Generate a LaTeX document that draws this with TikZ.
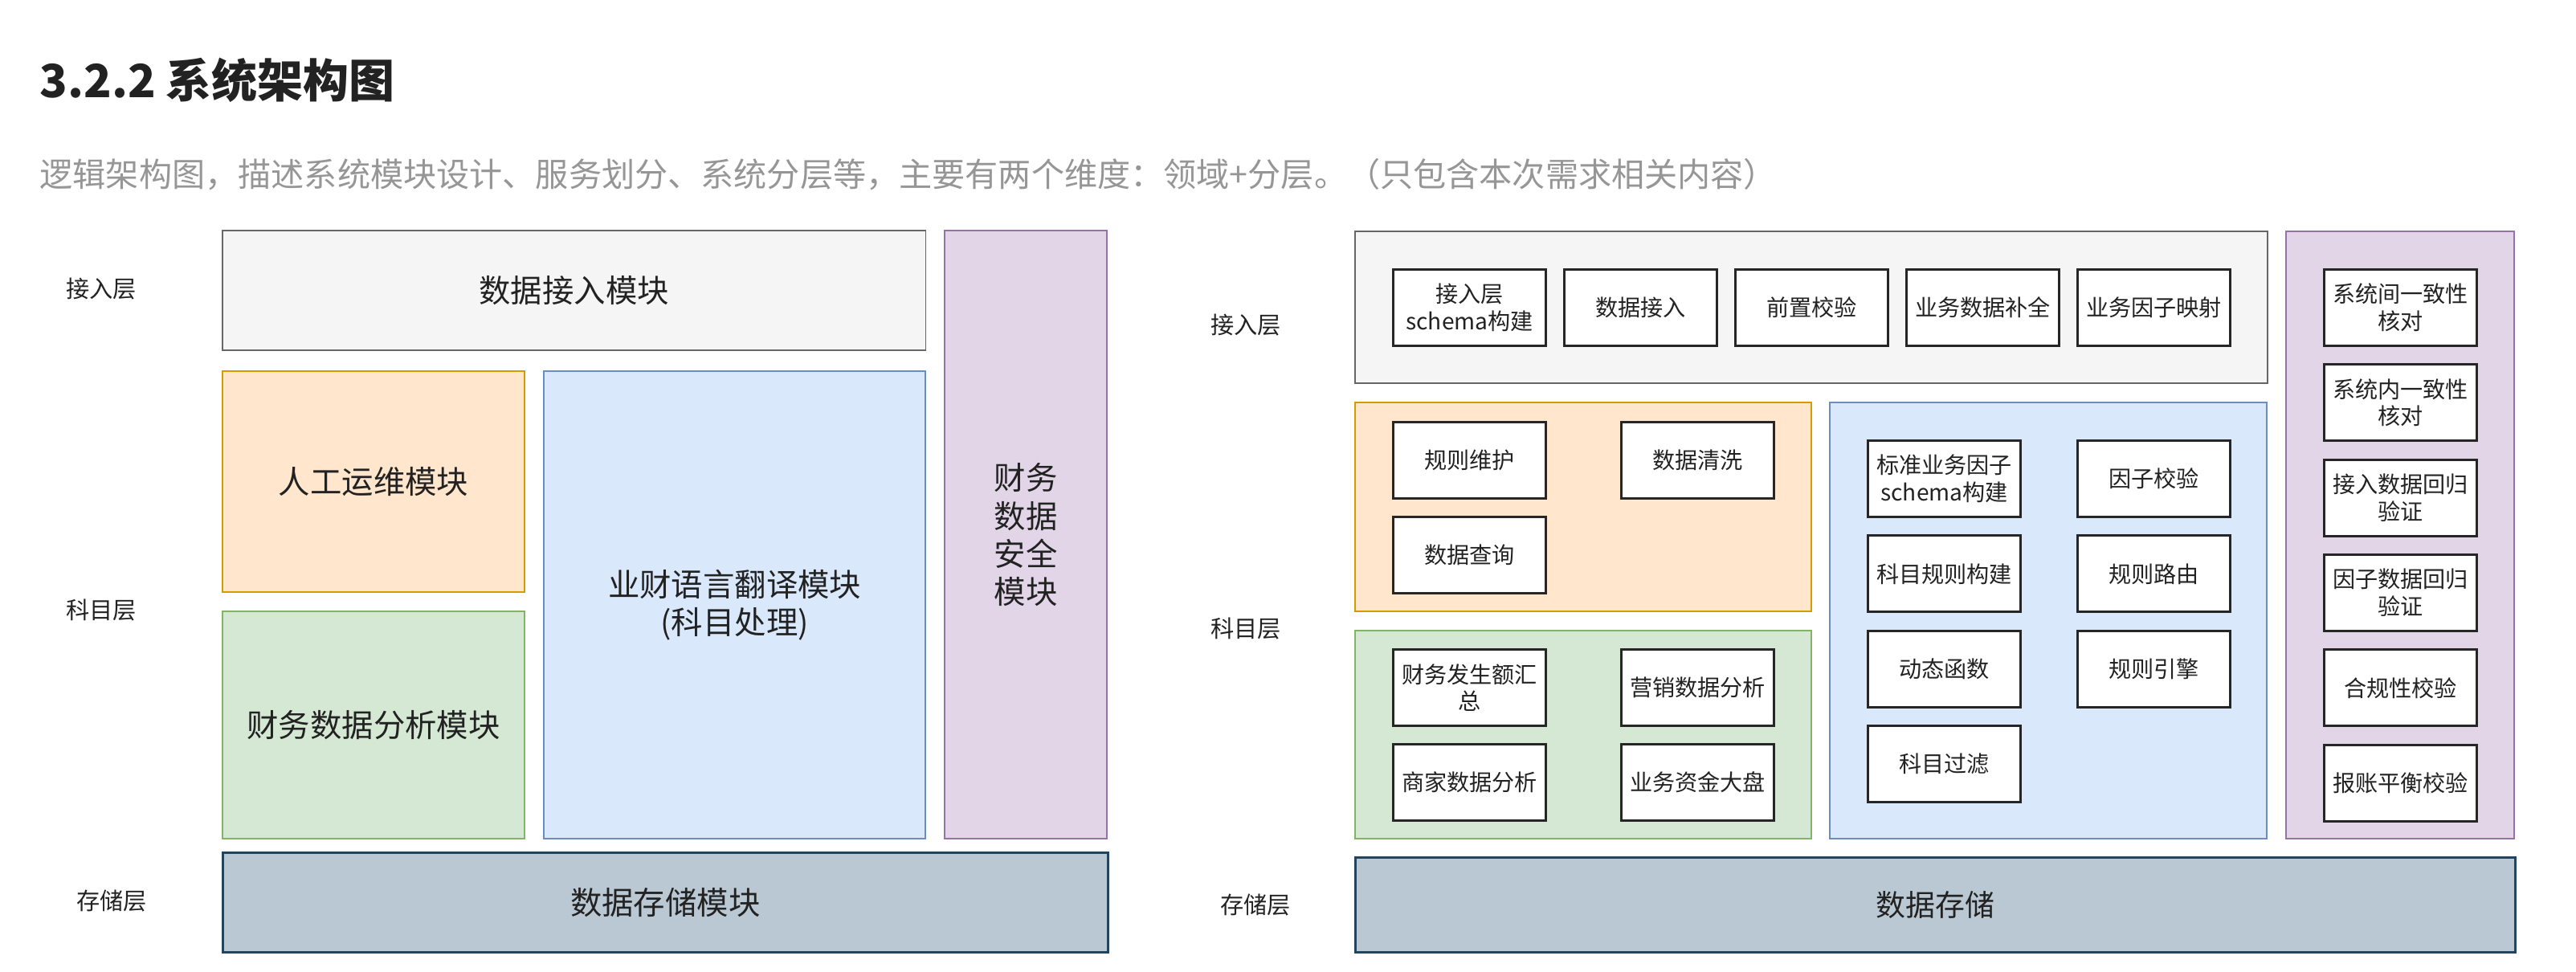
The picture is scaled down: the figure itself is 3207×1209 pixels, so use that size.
\documentclass[tikz,border=0pt]{standalone}
\usepackage{fontspec}
\setmainfont{Noto Sans CJK SC}
\usetikzlibrary{positioning}
\definecolor{inkdark}{RGB}{34,34,34}
\definecolor{inkgray}{RGB}{150,150,150}
\definecolor{greyfill}{RGB}{245,245,245}
\definecolor{greyline}{RGB}{102,102,102}
\definecolor{peachfill}{RGB}{255,230,204}
\definecolor{peachline}{RGB}{215,155,0}
\definecolor{sagefill}{RGB}{213,232,212}
\definecolor{sageline}{RGB}{130,179,102}
\definecolor{skyfill}{RGB}{218,232,252}
\definecolor{skyline}{RGB}{108,142,191}
\definecolor{lilacfill}{RGB}{225,213,231}
\definecolor{lilacline}{RGB}{150,115,166}
\definecolor{slatefill}{RGB}{186,200,211}
\definecolor{slateline}{RGB}{35,68,93}

\begin{document}
\begin{tikzpicture}[x=0.01cm,y=-0.01cm,
    layer/.style={font=\fontsize{8.3}{10}\selectfont,text=inkdark},
    zone/.style={rectangle,anchor=north west,inner sep=0pt,line width=0.55pt,align=center,text=inkdark,
      font=\fontsize{11.2}{13.4}\selectfont},
    item/.style={rectangle,draw=black!85,fill=white,line width=0.85pt,minimum width=1.9cm,minimum height=0.95cm,
      inner sep=0pt,anchor=north west,align=center,text=inkdark,font=\fontsize{8}{9.6}\selectfont}]
  \useasboundingbox (0,0) rectangle (3207,1209);

  % heading
  \node[anchor=west,inner sep=0pt,text=inkdark,font=\fontsize{16.2}{19}\selectfont\bfseries] (title) at (49,100) {3.2.2 系统架构图};
  \node[anchor=west,inner sep=0pt,text=inkgray,font=\fontsize{11.7}{14}\selectfont] (intro) at (49,217)
    {逻辑架构图，描述系统模块设计、服务划分、系统分层等，主要有两个维度：领域+分层。（只包含本次需求相关内容）};

  % left: module view
  \node[layer] (lacc) at (126,360) {接入层};
  \node[layer] (lsub) at (126,760) {科目层};
  \node[layer] (lsto) at (139,1121) {存储层};
  \node[zone,draw=greyline,fill=greyfill,minimum width=8.75cm,minimum height=1.49cm] (ingest) at (276,286) {数据接入模块};
  \node[zone,draw=lilacline,fill=lilacfill,minimum width=2.02cm,minimum height=7.57cm] (secure) at (1175,286) {财务\\数据\\安全\\模块};
  \node[zone,draw=peachline,fill=peachfill,minimum width=3.76cm,minimum height=2.75cm] (manual) at (276,461) {人工运维模块};
  \node[zone,draw=sageline,fill=sagefill,minimum width=3.76cm,minimum height=2.83cm] (analysis) at (276,760) {财务数据分析模块};
  \node[zone,draw=skyline,fill=skyfill,minimum width=4.75cm,minimum height=5.82cm] (translate) at (676,461) {业财语言翻译模块\\(科目处理)};
  \node[zone,draw=slateline,fill=slatefill,line width=0.85pt,minimum width=11.01cm,minimum height=1.24cm] (storage) at (276,1060) {数据存储模块};

  % right: detailed view
  \node[layer] (racc) at (1551,405) {接入层};
  \node[layer] (rsub) at (1551,783) {科目层};
  \node[layer] (rsto) at (1563,1126) {存储层};
  \node[zone,draw=greyline,fill=greyfill,minimum width=11.35cm,minimum height=1.89cm] (accbox) at (1686,287) {};
  \node[zone,draw=peachline,fill=peachfill,minimum width=5.68cm,minimum height=2.60cm] (opsbox) at (1686,500) {};
  \node[zone,draw=sageline,fill=sagefill,minimum width=5.68cm,minimum height=2.59cm] (anabox) at (1686,784) {};
  \node[zone,draw=skyline,fill=skyfill,minimum width=5.44cm,minimum height=5.43cm] (rulebox) at (2277,500) {};
  \node[zone,draw=lilacline,fill=lilacfill,minimum width=2.84cm,minimum height=7.56cm] (checkbox) at (2845,287) {};
  \node[zone,draw=slateline,fill=slatefill,line width=0.85pt,minimum width=14.43cm,minimum height=1.18cm,
    font=\fontsize{10.5}{12.6}\selectfont] (store) at (1686,1066) {数据存储};

  \foreach \t [count=\i from 0] in {接入层\\schema构建,数据接入,前置校验,业务数据补全,业务因子映射}
  {
    \pgfmathsetmacro{\x}{1733+213*\i}
    \node[item] (acc\i) at (\x,334) {\t};
  }
  \foreach \x/\y/\t [count=\i from 0] in {1733/524/规则维护,2017/524/数据清洗,1733/642/数据查询}
    \node[item] (ops\i) at (\x,\y) {\t};
  \foreach \x/\y/\t [count=\i from 0] in {1733/807/财务发生额汇\\总,2017/807/营销数据分析,
      1733/925/商家数据分析,2017/925/业务资金大盘}
    \node[item] (ana\i) at (\x,\y) {\t};
  \foreach \t [count=\i from 0] in {标准业务因子\\schema构建,科目规则构建,动态函数,科目过滤}
  {
    \pgfmathsetmacro{\y}{547+118.3*\i}
    \node[item] (rule\i) at (2324,\y) {\t};
  }
  \foreach \t [count=\i from 0] in {因子校验,规则路由,规则引擎}
  {
    \pgfmathsetmacro{\y}{547+118.3*\i}
    \node[item] (eng\i) at (2585,\y) {\t};
  }
  \foreach \t [count=\i from 0] in {系统间一致性\\核对,系统内一致性\\核对,接入数据回归\\验证,
      因子数据回归\\验证,合规性校验,报账平衡校验}
  {
    \pgfmathsetmacro{\y}{334+118.3*\i}
    \node[item] (chk\i) at (2892,\y) {\t};
  }
\end{tikzpicture}
\end{document}
